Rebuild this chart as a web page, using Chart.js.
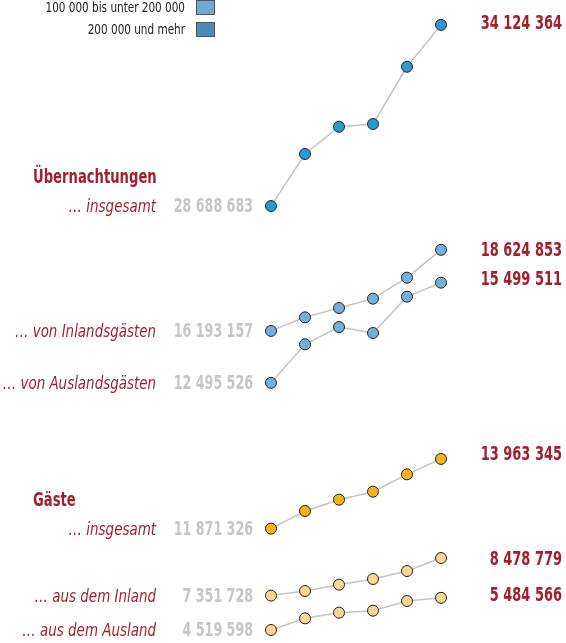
<!DOCTYPE html>
<html>
<head>
<meta charset="utf-8">
<script src="https://cdn.jsdelivr.net/npm/chart.js@4/dist/chart.umd.min.js"></script>
<style>
  html, body { margin: 0; padding: 0; background: #fff; }
  #wrap { width: 566px; height: 643px; position: relative; }
</style>
</head>
<body>
<div id="wrap"><canvas id="chart"></canvas></div>
<script>
const years = ["2014", "2015", "2016", "2017", "2018", "2019"];

const uebInsgesamt = [28688683, 30250000, 31067000, 31150000, 32867000, 34124364];
const uebInland    = [16193157, 16600000, 16880000, 17160000, 17790000, 18624853];
const uebAusland   = [12495526, 13650000, 14170000, 13990000, 15080000, 15499511];
const gaesteInsgesamt = [11871326, 12400000, 12740000, 12980000, 13500000, 13963345];
const gaesteInland    = [7351728, 7490000, 7680000, 7850000, 8090000, 8478779];
const gaesteAusland   = [4519598, 4870000, 5040000, 5100000, 5390000, 5484566];

const seriesNames = ["… insgesamt", "… von Inlandsgästen", "… von Auslandsgästen",
                     "… insgesamt", "… aus dem Inland", "… aus dem Ausland"];
const headings = ["Übernachtungen", "Gäste"];
const legendLabels = ["100 000 bis unter 200 000", "200 000 und mehr"];
const legendColors = ["#6fa9cf", "#4b8bb3"];

// every series shares the same value-per-pixel, only the band (axis top) differs
const range = 19290000;
const axisTops = [34870000, 26120000, 23980000, 27730000, 25220000, 23420000];
const pointColors = ["#2b9ad2", "#73b1dc", "#73b1dc", "#f7b21b", "#fdd68f", "#fdd68f"];
const rightLabelShift = [-2, 0, -4, -5, 1, -3];

const fmt = v => v.toString().replace(/\B(?=(\d{3})+(?!\d))/g, " ");
const FONT = '"DejaVu Sans Condensed", "DejaVu Sans", sans-serif';

// condensed look: squeeze text horizontally
function drawText(ctx, text, x, y, align, sx) {
    ctx.save();
    ctx.translate(x, y + 1.5);
    ctx.scale(sx, 1);
    ctx.textAlign = align;
    ctx.fillText(text, 0, 0);
    ctx.restore();
}

const allSeries = [uebInsgesamt, uebInland, uebAusland, gaesteInsgesamt, gaesteInland, gaesteAusland];

const datasets = allSeries.map((d, i) => ({
    label: seriesNames[i],
    data: d,
    yAxisID: "y" + i,
    borderColor: "#c4c4c4",
    borderWidth: 1.5,
    pointRadius: 5.5,
    pointBorderWidth: 1,
    pointBorderColor: "#222",
    pointBackgroundColor: pointColors[i],
    clip: false,
    tension: 0
}));

const scales = { x: { display: false } };
axisTops.forEach((top, i) => {
    scales["y" + i] = { display: false, max: top, min: top - range };
});

const labelPlugin = {
    id: "labels",
    afterDatasetsDraw(chart) {
        const ctx = chart.ctx;
        ctx.save();
        ctx.textBaseline = "middle";

        // legend (cut off at top like the original)
        legendLabels.forEach((t, i) => {
            const y = 8 + i * 22;
            ctx.font = "14px " + FONT;
            ctx.fillStyle = "#222";
            drawText(ctx, t, 185, y - 1, "right", 0.83);
            ctx.fillStyle = legendColors[i];
            ctx.fillRect(196, y - 8, 19, 15);
            ctx.strokeStyle = "#555";
            ctx.lineWidth = 1;
            ctx.strokeRect(196.5, y - 7.5, 18, 14);
        });

        allSeries.forEach((d, i) => {
            const pts = chart.getDatasetMeta(i).data;
            const first = pts[0], last = pts[pts.length - 1];

            ctx.font = "italic 18px " + FONT;
            ctx.fillStyle = "#a31f2d";
            drawText(ctx, seriesNames[i], first.x - 115, first.y, "right", 0.83);

            ctx.font = "bold 19px " + FONT;
            ctx.fillStyle = "#c6c6c6";
            drawText(ctx, fmt(d[0]), first.x - 18, first.y, "right", 0.74);

            ctx.fillStyle = "#a31f2d";
            drawText(ctx, fmt(d[d.length - 1]), last.x + 121, last.y + rightLabelShift[i], "right", 0.76);

            if (i === 0 || i === 3) {
                drawText(ctx, headings[i === 0 ? 0 : 1], 33, first.y - 29, "left", 0.77);
            }
        });
        ctx.restore();
    }
};

new Chart(document.getElementById("chart"), {
    type: "line",
    data: { labels: years, datasets: datasets },
    options: {
        responsive: true,
        maintainAspectRatio: false,
        animation: false,
        layout: { autoPadding: false, padding: { left: 271, right: 125, top: 0, bottom: 0 } },
        plugins: { legend: { display: false }, tooltip: { enabled: false } },
        scales: scales
    },
    plugins: [labelPlugin]
});
</script>
</body>
</html>
